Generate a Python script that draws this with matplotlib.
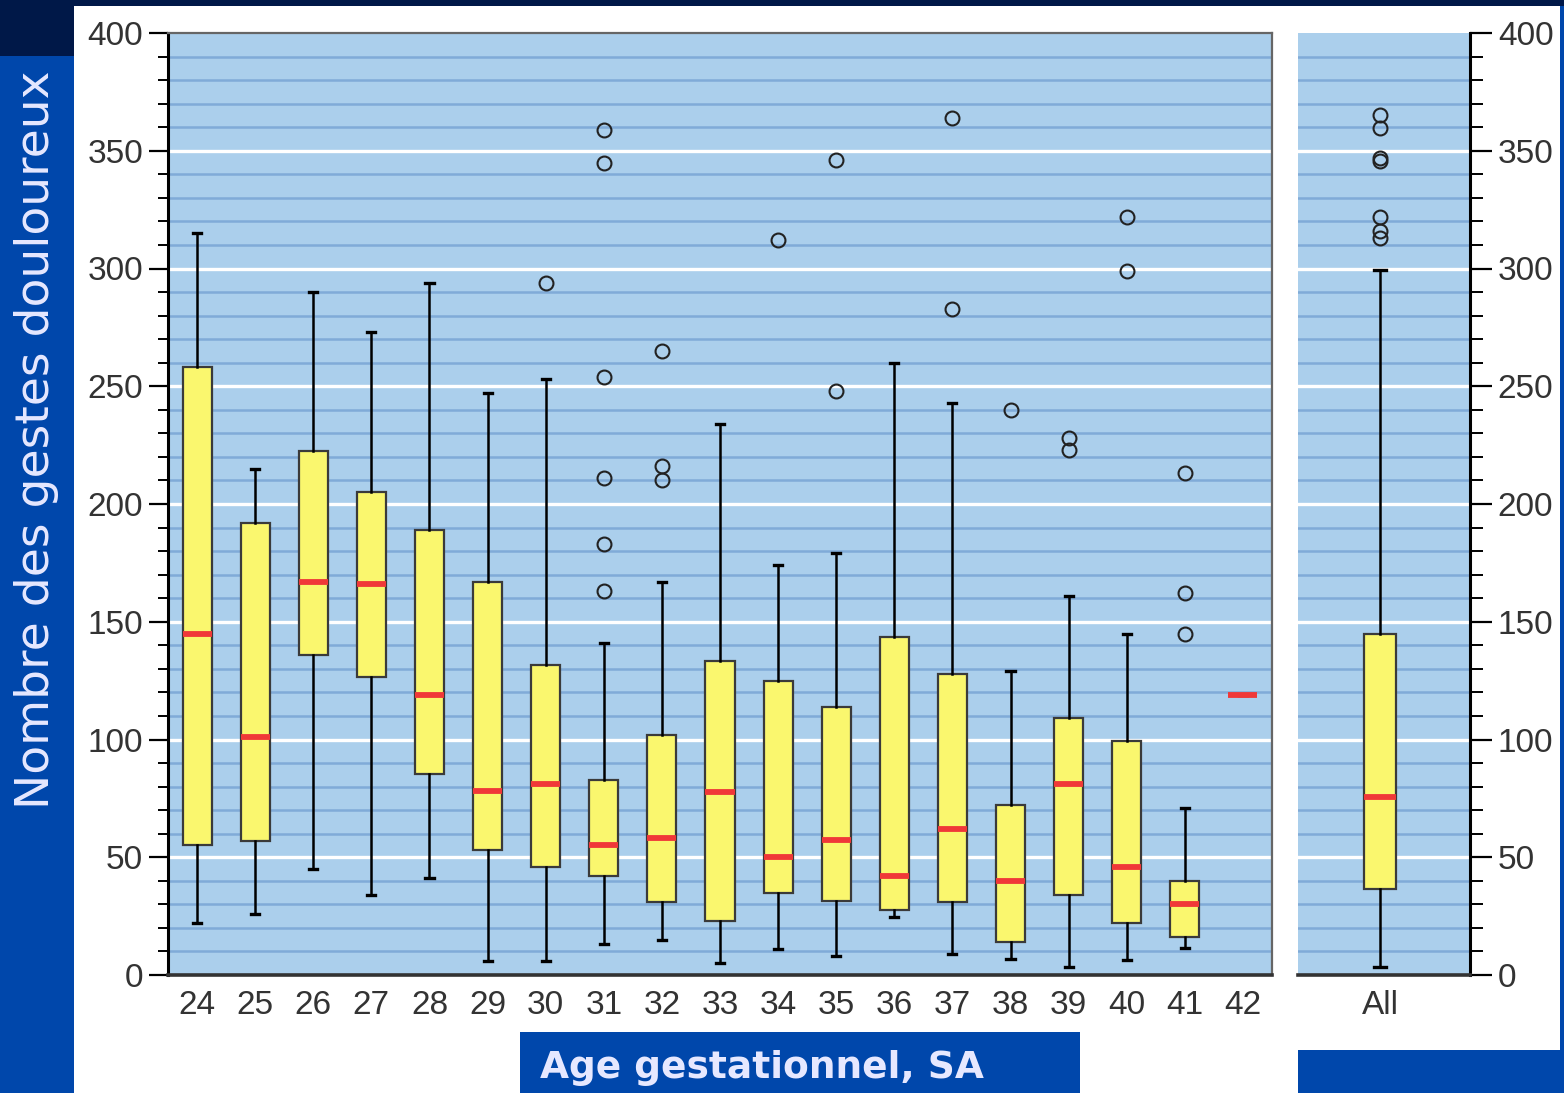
import matplotlib
matplotlib.use("Agg")
import matplotlib.pyplot as plt
from matplotlib.patches import Rectangle
from matplotlib.ticker import MultipleLocator

# ---------------- data ----------------
categories = ["24", "25", "26", "27", "28", "29", "30", "31", "32", "33",
              "34", "35", "36", "37", "38", "39", "40", "41", "42"]
whisker_low = [22, 26, 45, 34, 41, 6, 6, 13, 15, 5, 11, 8, 24.5, 9, 7, 3.5, 6.5, 11.5, 119]
q1 = [55, 57, 136, 126.5, 85.5, 53, 46, 42, 31, 23, 35, 31.5, 27.5, 31, 14, 34, 22, 16, 119]
median = [145, 101, 167, 166, 119, 78, 81, 55, 58, 77.5, 50, 57.5, 42, 62, 40, 81, 46, 30, 119]
q3 = [258, 192, 222.5, 205, 189, 167, 131.5, 83, 102, 133.5, 125, 114, 143.5, 128, 72, 109, 99.5, 40, 119]
whisker_high = [315, 215, 290, 273, 294, 247, 253, 141, 167, 234, 174, 179, 260, 243, 129, 161, 145, 71, 119]
outliers = [[], [], [], [], [], [], [294],
            [359, 345, 254, 211, 183, 163],
            [265, 216, 210],
            [], [312], [346, 248], [], [364, 283], [240], [228, 223],
            [322, 299], [213, 162, 145], []]

all_label = "All"
all_stats = dict(whislo=3.5, q1=36.5, med=75.5, q3=145, whishi=299.5)
all_outliers = [365, 359.5, 347, 345.5, 322, 316, 313]

ylabel = "Nombre des gestes douloureux"
xlabel = "Age gestationnel, SA"

# ---------------- style ----------------
W, H = 1564, 1093
fig = plt.figure(figsize=(W / 100, H / 100), dpi=100)
fig.patch.set_facecolor("white")

navy = "#001848"
blue = "#0047AB"
bg = "#ABCFEC"
minor_c = "#80ABD8"
box_face = "#FAF76E"
med_c = "#F03838"
tick_c = "#333333"

def fx(px):
    return px / W

def fy(py):
    return 1 - py / H

# decorative slide background
fig.patches.append(Rectangle((0, fy(6)), 1, 6 / H, transform=fig.transFigure,
                             facecolor=navy, edgecolor="none", zorder=0))
fig.patches.append(Rectangle((0, fy(56)), fx(74), 56 / H, transform=fig.transFigure,
                             facecolor=navy, edgecolor="none", zorder=0))
fig.patches.append(Rectangle((0, 0), fx(74), fy(56), transform=fig.transFigure,
                             facecolor=blue, edgecolor="none", zorder=0))
fig.patches.append(Rectangle((fx(1560), 0), fx(4), fy(6), transform=fig.transFigure,
                             facecolor=blue, edgecolor="none", zorder=0))
fig.patches.append(Rectangle((fx(1298), 0), fx(266), 43 / H, transform=fig.transFigure,
                             facecolor=blue, edgecolor="none", zorder=0))
fig.patches.append(Rectangle((fx(520), 0), fx(560), 61 / H, transform=fig.transFigure,
                             facecolor=blue, edgecolor="none", zorder=0))

# axes
ax = fig.add_axes([fx(168), fy(975), fx(1272 - 168), (975 - 33) / H])
ax2 = fig.add_axes([fx(1298), fy(975), fx(1470 - 1298), (975 - 33) / H])

FONT = ["Liberation Sans", "DejaVu Sans"]

def style_axis(a):
    a.set_facecolor(bg)
    a.set_ylim(0, 400)
    a.yaxis.set_major_locator(MultipleLocator(50))
    a.yaxis.set_minor_locator(MultipleLocator(10))
    for v in range(10, 400, 10):
        if v % 50 == 0:
            a.axhline(v, color="white", lw=2.4, zorder=1)
        else:
            a.axhline(v, color=minor_c, lw=1.8, zorder=1)
    a.tick_params(axis="y", which="major", length=14, width=1.6, color="black",
                  labelsize=24, labelcolor=tick_c, pad=4)
    a.tick_params(axis="y", which="minor", length=7, width=1.4, color="black")
    a.tick_params(axis="x", length=0, labelsize=24, labelcolor=tick_c, pad=11)

def draw_boxes(a, stats_list, positions, width, capw):
    a.bxp(stats_list, positions=positions, widths=width, capwidths=capw,
          patch_artist=True, showfliers=True,
          boxprops=dict(facecolor=box_face, edgecolor="#3A3A3A", linewidth=1.6),
          medianprops=dict(color=med_c, linewidth=4.2, solid_capstyle="butt"),
          whiskerprops=dict(color="black", linewidth=1.8),
          capprops=dict(color="black", linewidth=2.4),
          flierprops=dict(marker="o", markerfacecolor="none", markeredgecolor="#222222",
                          markersize=10, markeredgewidth=1.5),
          zorder=3)

stats = []
for i in range(len(categories)):
    stats.append(dict(label=categories[i], whislo=whisker_low[i], q1=q1[i], med=median[i],
                      q3=q3[i], whishi=whisker_high[i], fliers=outliers[i]))

style_axis(ax)
draw_boxes(ax, stats, list(range(len(categories))), 0.5, 0.14)
ax.set_xlim(-0.5, len(categories) - 0.5)
ax.set_xticks(range(len(categories)))
ax.set_xticklabels(categories)
ax.spines["left"].set_color("black")
ax.spines["left"].set_linewidth(2.2)
ax.spines["bottom"].set_color("#333333")
ax.spines["bottom"].set_linewidth(2.6)
for s in ["top", "right"]:
    ax.spines[s].set_color("#666666")
    ax.spines[s].set_linewidth(1.6)

style_axis(ax2)
st_all = dict(label=all_label, fliers=all_outliers, **all_stats)
draw_boxes(ax2, [st_all], [0], 0.186, 0.07)
ax2.set_xlim(-0.477, 0.523)
ax2.set_xticks([0])
ax2.set_xticklabels([all_label])
ax2.yaxis.tick_right()
ax2.tick_params(axis="y", which="major", length=16)
ax2.tick_params(axis="y", which="minor", length=9)
ax2.spines["left"].set_visible(False)
ax2.spines["top"].set_visible(False)
ax2.spines["right"].set_color("black")
ax2.spines["right"].set_linewidth(2.2)
ax2.spines["bottom"].set_color("#333333")
ax2.spines["bottom"].set_linewidth(2.6)

for a in (ax, ax2):
    for lab in a.get_xticklabels() + a.get_yticklabels():
        lab.set_fontfamily(FONT)

# labels
fig.text(fx(37), fy(440), ylabel, rotation=90, ha="center", va="center",
         color="#E6E8FF", fontsize=34, fontfamily="DejaVu Sans")
fig.text(fx(540), fy(1068), xlabel, ha="left", va="center",
         color="#E6E8FF", fontsize=27, fontweight="bold", fontfamily="DejaVu Sans")

fig.savefig("out.png", dpi=100, facecolor=fig.get_facecolor())
